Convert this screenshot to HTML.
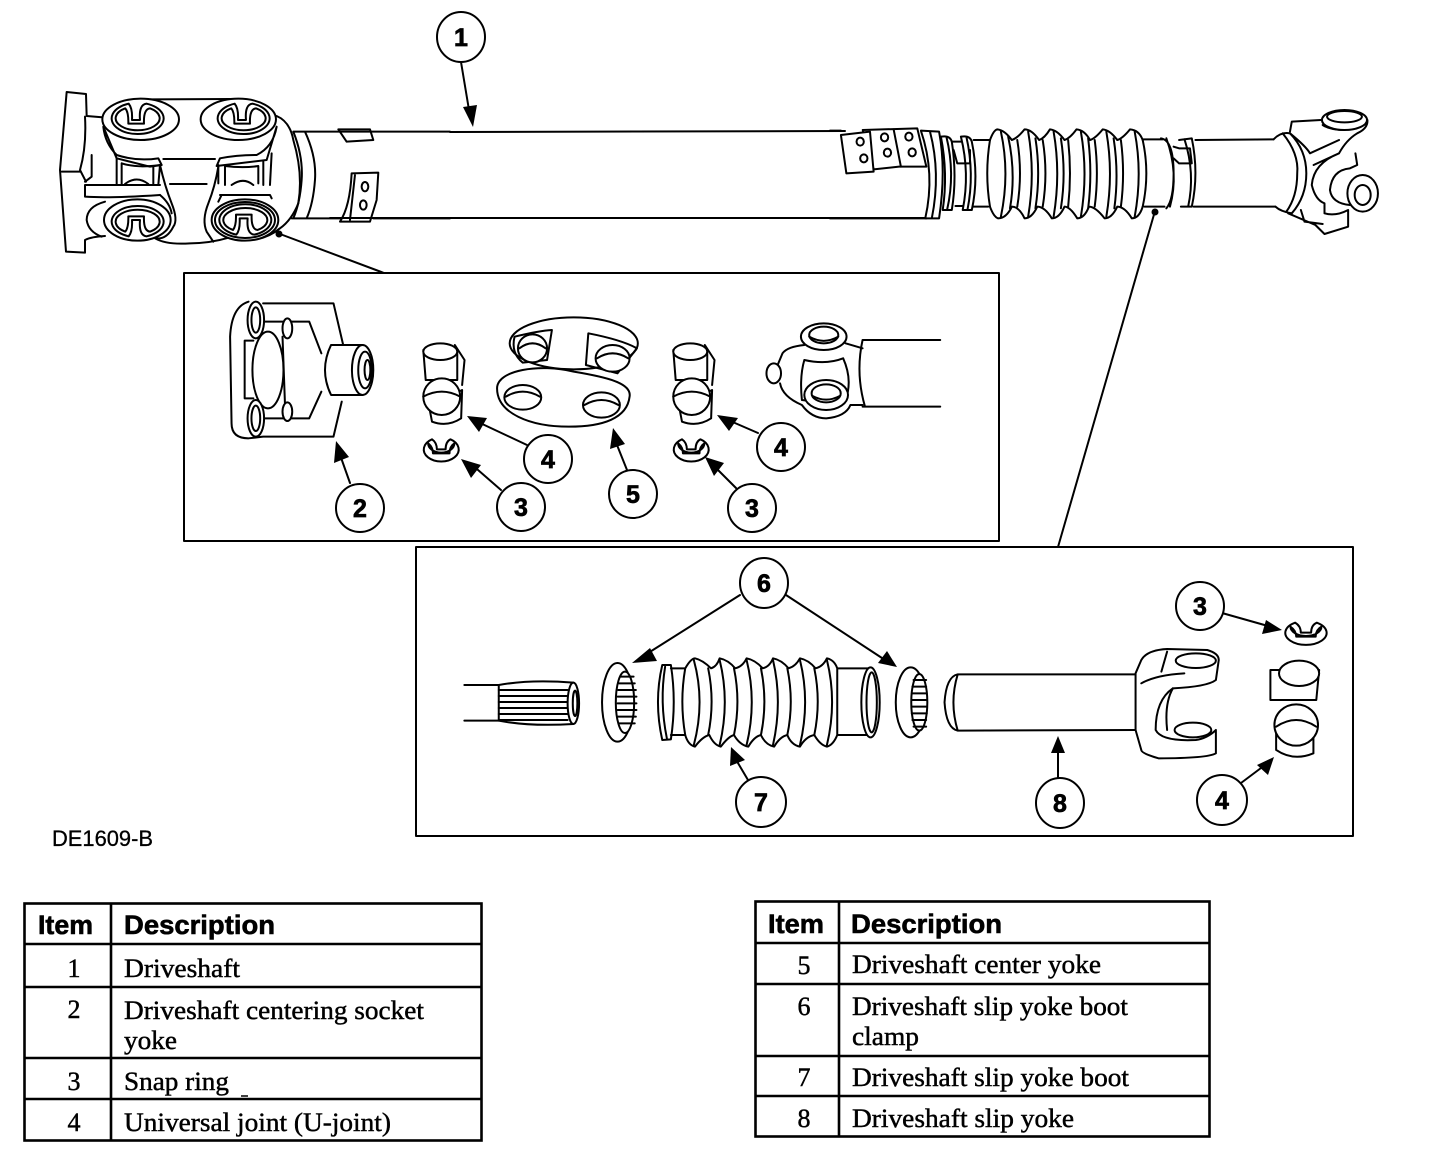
<!DOCTYPE html>
<html><head><meta charset="utf-8"><title>Driveshaft diagram</title>
<style>
html,body{margin:0;padding:0;background:#fff;}
svg{display:block;}
.l *,defs *{vector-effect:non-scaling-stroke;}
.l{fill:none;stroke:#000;stroke-width:2;stroke-linejoin:round;stroke-linecap:round;}
.w{fill:#fff;}
.d{font-family:"Liberation Sans",sans-serif;font-weight:bold;font-size:25px;text-anchor:middle;fill:#000;stroke:#000;stroke-width:.7;}
.h{font-family:"Liberation Sans",sans-serif;font-weight:bold;font-size:27px;fill:#000;stroke:#000;stroke-width:.6;}
.t{font-family:"Liberation Serif",serif;font-size:26px;fill:#000;stroke:#000;stroke-width:.45;}
.n{text-anchor:middle;}
</style></head><body>
<svg xmlns="http://www.w3.org/2000/svg" width="1456" height="1150" viewBox="0 0 1456 1150">
<rect width="1456" height="1150" fill="#fff"/>
<defs>
<g id="clip">
<path class="w" d="M-26,-44 A78,47 0 1,0 28,-44 Q4,-42 8,5 L-16,5 Q-14,-30 -26,-44 Z"/>
<path d="M-36,-30 A66,36 0 1,0 38,-30 Q18,-28 20,16 L-27,16 Q-26,-18 -36,-30 Z"/>
</g>
<g id="uj">
<path class="w" d="M460,180 L465,270 L530,270 L530,180 Z"/>
<path d="M525,165 L545,210 L540,285"/>
<ellipse class="w" cx="495" cy="185" rx="35" ry="25"/>
<path class="w" d="M472,350 L478,395 Q510,412 538,385 L540,300 Z"/>
<ellipse class="w" cx="498" cy="320" rx="38" ry="55"/>
<path d="M460,320 Q498,290 536,320"/>
</g>
<g id="snap">
<path class="w" d="M478,448 A36,36 0 1,0 516,448 Q506,455 506,478 L488,478 Q488,458 478,448 Z"/>
<path d="M470,460 A26,27 0 1,0 524,460 Q514,470 514,490 L480,490 Q480,472 470,460 Z"/>
</g>
</defs>

<!-- main shaft -->
<g class="l">
<path d="M450,132 L845,131 M330,218 L925,218"/>
<path d="M280,234 L384,273 M1155,211 L1058,547"/>
<rect x="184" y="273" width="815" height="268"/>
<rect x="416" y="547" width="937" height="289"/>
</g>
<circle cx="279" cy="234" r="3.5"/><circle cx="1155" cy="212" r="3.5"/>

<!-- left universal joint -->
<g class="l" transform="translate(50,80) scale(.3333)">
<path d="M160,112 L110,108 L108,42 L50,36 Q40,150 30,270 L48,515 L105,518 L105,480 Q125,470 165,468"/>
<path d="M35,275 L90,275 M105,110 Q110,200 90,270 L108,305 M105,315 L330,315 M105,315 L105,350 Q180,355 330,345 M125,225 L125,290 L105,305"/>
<path d="M300,58 L540,57 M340,237 L495,237 M360,312 L470,312"/>
<path class="w" d="M160,140 Q165,190 200,225 Q260,245 325,235 L335,255 L300,260 L200,235 Z"/>
<ellipse class="w" cx="272" cy="118" rx="115" ry="62"/>
<path class="w" d="M680,140 Q670,200 620,225 Q560,225 510,235 L500,258 L650,240 Z"/>
<ellipse class="w" cx="565" cy="118" rx="113" ry="62"/>
<use href="#clip" x="262" y="115"/>
<use href="#clip" x="580" y="115"/>
<path d="M200,235 L200,315 M215,250 L215,315 M215,250 Q260,265 330,255 L325,315 M310,258 L310,315 M225,312 Q260,285 295,312"/>
<path d="M505,255 L505,310 M525,258 L525,315 M525,258 Q580,265 625,258 L625,310 M640,245 L640,315 M545,315 Q580,290 610,315 M665,220 L660,315"/>
<path d="M330,255 Q345,320 365,370 Q385,420 370,440 Q350,480 315,475 Q350,495 420,490 Q480,490 540,472"/>
<path d="M505,260 Q495,320 475,370 Q455,420 470,455 L490,485"/>
<path d="M165,365 Q110,380 110,420 Q115,455 155,470 M330,345 Q360,370 365,400"/>
<path d="M680,108 Q720,125 730,180 Q760,280 745,370 Q725,420 690,445 Q660,470 620,478"/>
<path d="M730,155 L765,155 Q800,230 795,300 Q790,370 770,415 L725,415 M730,155 Q760,230 755,300 Q750,370 730,415 M765,155 L1200,155 M770,415 L870,415 M970,415 L1200,415"/>
<path d="M865,148 L960,148 L970,180 L890,185 Z"/>
<path d="M905,280 L985,278 L980,360 L960,425 L870,425 Q900,380 905,280 M915,285 L900,420"/>
<ellipse cx="945" cy="320" rx="10" ry="14"/><ellipse cx="940" cy="375" rx="10" ry="14"/>
<ellipse class="w" cx="262" cy="420" rx="100" ry="62"/>
<g transform="translate(262,425) scale(1,-1)"><use href="#clip"/></g>
<ellipse class="w" cx="585" cy="420" rx="100" ry="62"/>
<g transform="translate(585,420) scale(1,-1)"><use href="#clip"/></g>
<ellipse cx="585" cy="420" rx="90" ry="54"/>
<path d="M510,345 L660,345 L665,355 M515,345 L505,365"/>
</g>

<!-- right end of main shaft -->
<g class="l" transform="translate(830,90) scale(.3636,.3333)">
<path d="M0,122 L30,122 M0,385 L265,385"/>
<path class="w" d="M90,120 L240,115 L265,230 L190,230 L120,238 Z"/>
<path class="w" d="M30,135 L45,250 L120,245 L110,125 Z"/>
<path d="M175,118 L195,230"/>
<ellipse cx="83" cy="155" rx="10" ry="12"/><ellipse cx="93" cy="205" rx="10" ry="12"/><ellipse cx="150" cy="142" rx="10" ry="12"/><ellipse cx="158" cy="188" rx="10" ry="12"/><ellipse cx="217" cy="140" rx="10" ry="12"/><ellipse cx="226" cy="187" rx="10" ry="12"/>
<path d="M250,122 L300,125 Q320,240 300,385 L265,385 M250,122 Q290,250 262,385 M275,125 Q305,250 280,385"/>
<path d="M305,140 Q330,135 335,155 Q350,260 335,360 L310,360 Q325,250 305,140 M320,140 Q345,250 322,360"/>
<path d="M360,140 Q385,135 390,155 Q410,260 390,360 L365,360 Q385,250 360,140 M375,140 Q398,250 378,360 M335,155 L362,155 M340,180 L350,220 L385,220 L385,180 M345,348 L365,348 M395,150 L440,150 M395,350 L435,350"/>
<path d="M440,150 Q450,120 460,118 Q480,120 500,150 Q515,145 535,118 Q555,118 575,150 Q590,145 605,118 Q625,120 645,150 Q660,145 678,118 Q700,120 715,150 Q730,145 750,118 Q770,120 790,150 Q805,145 825,118 Q850,120 860,150"/>
<path d="M440,350 Q450,380 462,385 Q485,385 500,350 Q520,350 535,385 Q555,385 570,350 Q590,350 610,385 Q630,385 645,350 Q660,350 680,385 Q700,385 712,350 Q730,350 755,385 Q775,385 790,350 Q810,350 830,385 Q850,385 860,350"/>
<path d="M440,150 Q425,250 440,350 M470,125 Q495,250 470,380 M490,140 Q512,250 495,355 M515,150 Q530,250 515,350 M545,125 Q565,250 545,380 M565,145 Q580,250 565,355 M585,150 Q600,250 585,350 M615,125 Q635,250 615,380 M635,145 Q650,250 635,355 M655,150 Q665,250 655,350 M690,125 Q710,250 690,380 M710,145 Q722,250 710,355 M728,150 Q740,250 728,350 M760,125 Q780,250 760,380 M780,145 Q795,250 782,355 M800,150 Q812,250 800,350 M838,125 Q860,250 838,380"/>
<path d="M860,148 L915,148 M865,350 L920,350 M860,150 Q880,250 860,350"/>
<path d="M910,145 Q945,150 945,250 Q945,330 925,355 M925,145 Q960,250 935,350 M960,150 L995,145 Q1015,250 995,350 L965,350 M975,148 Q1005,250 985,350 M945,170 L960,175 L990,175 L995,220 L960,220 L945,205"/>
<path d="M1005,150 L1220,148 M1000,350 L1225,350"/>
<path d="M1220,148 Q1240,125 1265,130 Q1310,180 1310,250 Q1310,320 1270,370 Q1240,365 1225,350 M1245,130 Q1290,190 1285,250 Q1285,320 1255,365"/>
<path d="M1265,125 L1270,95 L1350,90 M1355,105 Q1375,120 1415,120 L1425,115 M1265,130 Q1310,170 1320,190 L1400,150"/>
<path d="M1478,90 Q1480,115 1450,130 Q1420,150 1400,190 L1330,225 M1445,190 L1450,225 L1430,235 Q1380,240 1375,300 Q1380,340 1430,345 M1400,190 Q1330,220 1325,285 Q1335,330 1360,340 L1360,370 Q1390,380 1425,360 L1425,410 L1360,432 L1335,405 L1260,370 M1295,360 L1305,395 L1355,402"/>
<ellipse class="w" cx="1415" cy="90" rx="62" ry="30"/><ellipse cx="1415" cy="80" rx="48" ry="17"/>
<ellipse class="w" cx="1465" cy="310" rx="42" ry="55"/><ellipse cx="1465" cy="315" rx="22" ry="30"/>
</g>

<!-- box 1 parts -->
<g class="l" transform="translate(200,290) scale(.4854,.3333)">
<path d="M100,35 Q65,50 62,140 L65,400 Q65,445 100,445 L130,440 L275,440 L292,335 M130,40 L275,40 L295,165"/>
<path d="M130,95 L225,95 L250,190 M130,385 L225,385 L250,305 M170,140 L175,340"/>
<ellipse class="w" cx="180" cy="115" rx="10" ry="30"/><ellipse class="w" cx="180" cy="365" rx="10" ry="28"/>
<path d="M110,152 L92,152 L92,325 L110,325"/>
<ellipse class="w" cx="140" cy="240" rx="32" ry="115"/>
<ellipse class="w" cx="115" cy="90" rx="17" ry="55"/><ellipse cx="115" cy="90" rx="9" ry="38"/>
<ellipse class="w" cx="115" cy="385" rx="17" ry="55"/><ellipse cx="115" cy="385" rx="9" ry="38"/>
<path class="w" d="M335,165 L270,165 Q245,240 270,315 L335,315 Z"/>
<ellipse class="w" cx="335" cy="240" rx="22" ry="75"/><ellipse cx="340" cy="240" rx="14" ry="55"/><ellipse cx="345" cy="240" rx="6" ry="30"/>
<use href="#uj"/><use href="#snap"/>
<use href="#uj" x="515"/><use href="#snap" x="515"/>
<ellipse class="w" cx="770" cy="160" rx="132" ry="78"/>
<path d="M648,140 Q700,122 725,120 L715,210 L665,218 Q640,190 648,140 Z"/>
<path d="M800,130 Q870,150 900,175 L860,250 L795,225 Z"/>
<ellipse class="w" cx="685" cy="175" rx="30" ry="42"/><path d="M658,175 Q685,145 712,175"/>
<ellipse class="w" cx="850" cy="205" rx="35" ry="40"/><path d="M818,205 Q850,175 882,205"/>
<path class="w" d="M612,295 C612,240 700,220 770,245 C840,262 890,280 885,320 C880,385 830,410 760,410 C680,410 612,370 612,295 Z"/>
<ellipse class="w" cx="665" cy="322" rx="38" ry="37"/><path d="M630,320 Q665,290 700,320"/>
<ellipse class="w" cx="827" cy="345" rx="38" ry="38"/><path d="M792,345 Q827,315 862,345"/>
<path d="M1365,150 L1525,150 M1365,350 L1525,350 M1365,150 Q1350,250 1370,350"/>
<path d="M1245,165 Q1210,170 1200,190 L1190,225 M1195,280 Q1200,320 1240,345 Q1260,385 1290,385 Q1330,380 1340,345 L1365,345 M1330,160 L1365,175"/>
<ellipse class="w" cx="1182" cy="250" rx="15" ry="30"/>
<path d="M1245,210 Q1235,260 1240,330 Q1290,340 1330,330 Q1345,270 1325,205 Q1290,225 1245,210 Z"/>
<ellipse class="w" cx="1285" cy="140" rx="47" ry="40"/><ellipse cx="1285" cy="135" rx="30" ry="25"/><path d="M1255,140 Q1285,165 1315,140"/>
<ellipse class="w" cx="1290" cy="315" rx="45" ry="45"/><ellipse cx="1290" cy="310" rx="30" ry="27"/><path d="M1262,318 Q1290,340 1318,318"/>
</g>

<!-- box 2 parts -->
<g class="l" transform="translate(450,570) scale(.5737,.3333)">
<path d="M25,345 L85,345 M25,452 L85,452"/>
<path class="w" d="M85,345 Q140,328 215,338 L215,462 Q140,470 85,452 Z"/>
<path d="M85,360 L205,360 M85,378 L205,378 M85,396 L205,396 M85,414 L205,414 M85,432 L205,432 M85,450 L205,450"/>
<ellipse class="w" cx="215" cy="400" rx="10" ry="62"/><ellipse cx="218" cy="400" rx="4" ry="38"/>
<ellipse class="w" cx="292" cy="397" rx="27" ry="118"/>
<ellipse class="w" cx="305" cy="397" rx="16" ry="92"/>
<path d="M297,320 L320,320 M295,340 L322,340 M293,360 L324,360 M292,380 L325,380 M292,400 L325,400 M292,420 L325,420 M293,440 L324,440 M295,460 L322,460"/>
<path d="M370,285 Q355,395 370,510 L385,508 Q395,395 385,285 Z M375,290 Q365,395 378,505"/>
<path d="M385,295 L410,295 M385,495 L410,495 M675,295 L730,295 M675,495 L730,495"/>
<path class="w" d="M410,295 Q420,265 427,265 Q440,270 455,295 Q465,290 470,265 Q485,270 497,295 Q510,290 517,265 Q532,270 545,295 Q557,290 563,265 Q578,270 590,295 Q602,290 610,265 Q625,270 637,295 Q650,290 657,265 Q670,270 675,295 L675,495 Q668,525 657,530 Q645,525 635,495 Q620,500 610,530 Q595,525 588,495 Q575,500 565,530 Q550,525 542,495 Q530,500 520,530 Q505,525 495,495 Q485,500 472,530 Q460,525 452,495 Q440,500 427,530 Q415,525 410,495 Q400,395 410,295 Z"/>
<path d="M425,270 Q445,395 425,525 M470,270 Q488,395 470,525 M517,270 Q535,395 517,525 M563,270 Q580,395 563,525 M610,270 Q628,395 610,525 M657,270 Q675,395 657,525 M450,295 Q462,395 450,495 M495,295 Q507,395 495,495 M542,295 Q554,395 542,495 M588,295 Q600,395 588,495 M635,295 Q647,395 635,495"/>
<ellipse class="w" cx="733" cy="397" rx="16" ry="105"/><ellipse cx="735" cy="397" rx="9" ry="90"/>
<ellipse class="w" cx="803" cy="397" rx="26" ry="105"/>
<ellipse class="w" cx="818" cy="397" rx="14" ry="85"/>
<path d="M808,330 L830,330 M806,350 L830,350 M805,370 L831,370 M805,390 L831,390 M805,410 L831,410 M805,430 L831,430 M806,450 L830,450 M808,470 L830,470"/>
<path d="M885,313 L1200,313 M885,482 L1195,480 M885,313 Q865,320 862,397 Q865,475 885,482 Q870,397 885,313 Z"/>
<path class="w" d="M1205,270 Q1215,240 1250,237 L1320,240 Q1340,250 1340,270 L1335,330 Q1320,350 1260,355 Q1230,390 1230,480 Q1240,515 1300,510 Q1320,505 1335,480 L1335,550 Q1320,565 1235,565 Q1205,550 1205,540 L1195,480 L1195,310 Z"/>
<path d="M1205,340 Q1230,315 1280,310 M1250,245 L1240,305 M1260,355 Q1245,400 1250,480"/>
<ellipse class="w" cx="1300" cy="272" rx="35" ry="22"/>
<ellipse class="w" cx="1295" cy="480" rx="32" ry="22"/>
<g transform="translate(995,-290)"><use href="#snap"/></g>
<path class="w" d="M1430,300 L1430,390 L1510,390 L1515,300 Z"/>
<ellipse class="w" cx="1480" cy="310" rx="35" ry="38"/>
<path class="w" d="M1440,540 Q1470,575 1505,550 L1505,480 L1440,480 Z"/>
<ellipse class="w" cx="1475" cy="465" rx="38" ry="62"/>
<path d="M1440,470 Q1475,430 1510,470"/>
</g>

<!-- arrows -->
<g class="l">
<path d="M461,62 L469,110 M350,483 L339,452 M501,490 L470,463 M527,445 L478,422 M627,470 L615,440 M758,433 L728,420 M736,488 L712,464 M740,595 L645,655 M786,595 L885,660 M1222,613 L1268,626 M748,780 L735,758 M1058,780 L1058,748 M1241,783 L1265,765"/>
</g>
<g fill="#000">
<polygon points="473,127 463,107 477,105"/>
<polygon points="336,441 349,457 334,463"/>
<polygon points="461,459 481,465 471,478"/>
<polygon points="467,416 487,418 479,432"/>
<polygon points="613,428 625,444 610,449"/>
<polygon points="717,415 738,418 729,431"/>
<polygon points="705,457 724,463 714,476"/>
<polygon points="632,663 650,648 657,661"/>
<polygon points="897,667 878,663 887,651"/>
<polygon points="1282,630 1262,634 1266,620"/>
<polygon points="731,747 745,760 730,766"/>
<polygon points="1058,736 1065,753 1051,753"/>
<polygon points="1274,757 1268,775 1257,765"/>
</g>

<!-- callouts -->
<g class="l" style="fill:#fff">
<ellipse cx="461" cy="37" rx="24" ry="25"/>
<ellipse cx="360" cy="508" rx="24" ry="24"/>
<ellipse cx="521" cy="507" rx="24" ry="24"/>
<ellipse cx="548" cy="459" rx="24" ry="24"/>
<ellipse cx="633" cy="494" rx="24" ry="24"/>
<ellipse cx="781" cy="447" rx="24" ry="24"/>
<ellipse cx="752" cy="508" rx="24" ry="24"/>
<ellipse cx="764" cy="583" rx="24" ry="25"/>
<ellipse cx="1200" cy="606" rx="24" ry="24"/>
<ellipse cx="761" cy="802" rx="25" ry="25"/>
<ellipse cx="1060" cy="803" rx="24" ry="25"/>
<ellipse cx="1222" cy="800" rx="25" ry="25"/>
</g>
<text class="d" x="461" y="46">1</text>
<text class="d" x="360" y="517">2</text>
<text class="d" x="521" y="516">3</text>
<text class="d" x="548" y="468">4</text>
<text class="d" x="633" y="503">5</text>
<text class="d" x="781" y="456">4</text>
<text class="d" x="752" y="517">3</text>
<text class="d" x="764" y="592">6</text>
<text class="d" x="1200" y="615">3</text>
<text class="d" x="761" y="811">7</text>
<text class="d" x="1060" y="812">8</text>
<text class="d" x="1222" y="809">4</text>

<text x="52" y="846" font-family="Liberation Sans, sans-serif" font-size="22" stroke="#000" stroke-width=".3" textLength="101" lengthAdjust="spacingAndGlyphs">DE1609-B</text>

<!-- tables -->
<g fill="none" stroke="#000" stroke-width="2.6">
<rect x="24.5" y="903.5" width="457" height="237"/>
<path d="M111,903 V1141 M24,944 H481 M24,987 H481 M24,1058 H481 M24,1099 H481"/>
<rect x="755.5" y="901.5" width="454" height="235"/>
<path d="M839,901 V1137 M755,943 H1209 M755,984 H1209 M755,1056 H1209 M755,1096 H1209"/>
</g>
<text class="h" x="38" y="934" textLength="55" lengthAdjust="spacingAndGlyphs">Item</text>
<text class="h" x="124" y="934" textLength="151" lengthAdjust="spacingAndGlyphs">Description</text>
<text class="t n" x="74" y="977">1</text>
<text class="t" x="124" y="977" textLength="116" lengthAdjust="spacingAndGlyphs">Driveshaft</text>
<text class="t n" x="74" y="1018">2</text>
<text class="t" x="124" y="1019" textLength="300" lengthAdjust="spacingAndGlyphs">Driveshaft centering socket</text>
<text class="t" x="124" y="1049" textLength="53" lengthAdjust="spacingAndGlyphs">yoke</text>
<text class="t n" x="74" y="1090">3</text>
<text class="t" x="124" y="1090" textLength="105" lengthAdjust="spacingAndGlyphs">Snap ring</text>
<path d="M241,1096 H248" stroke="#000" stroke-width="1.5"/>
<text class="t n" x="74" y="1131">4</text>
<text class="t" x="124" y="1131" textLength="267" lengthAdjust="spacingAndGlyphs">Universal joint (U-joint)</text>

<text class="h" x="768" y="933" textLength="56" lengthAdjust="spacingAndGlyphs">Item</text>
<text class="h" x="851" y="933" textLength="151" lengthAdjust="spacingAndGlyphs">Description</text>
<text class="t n" x="804" y="974">5</text>
<text class="t" x="852" y="973" textLength="249" lengthAdjust="spacingAndGlyphs">Driveshaft center yoke</text>
<text class="t n" x="804" y="1015">6</text>
<text class="t" x="852" y="1015" textLength="276" lengthAdjust="spacingAndGlyphs">Driveshaft slip yoke boot</text>
<text class="t" x="852" y="1045" textLength="67" lengthAdjust="spacingAndGlyphs">clamp</text>
<text class="t n" x="804" y="1086">7</text>
<text class="t" x="852" y="1086" textLength="277" lengthAdjust="spacingAndGlyphs">Driveshaft slip yoke boot</text>
<text class="t n" x="804" y="1127">8</text>
<text class="t" x="852" y="1127" textLength="222" lengthAdjust="spacingAndGlyphs">Driveshaft slip yoke</text>
</svg>
</body></html>
